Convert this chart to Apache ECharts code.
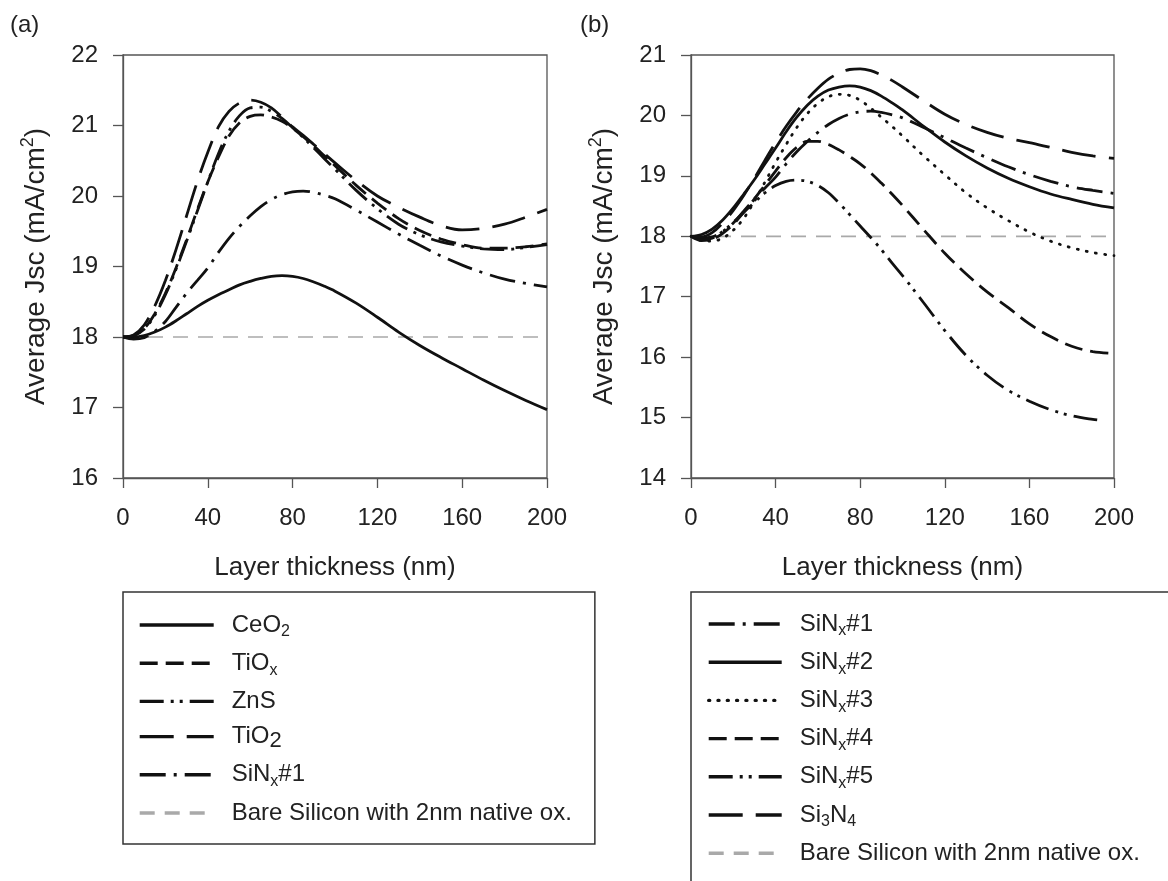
<!DOCTYPE html>
<html>
<head>
<meta charset="utf-8">
<title>Average Jsc vs layer thickness</title>
<script src="https://cdn.jsdelivr.net/npm/echarts@6/dist/echarts.min.js"></script>
<style>
  html, body { margin: 0; padding: 0; background: #fff; }
  #chart { width: 1168px; height: 881px; }
</style>
</head>
<body>
<div id="chart"></div>
<script>
// Layer thickness grid (nm)
const thickness = [0, 5, 10, 15, 20, 25, 30, 35, 40, 45, 50, 55, 60, 65, 70, 75, 80, 85, 90, 95, 100, 110, 120, 130, 140, 150, 160, 170, 180, 190, 200];
const thicknessSiNx5 = [0, 5, 10, 15, 20, 25, 30, 35, 40, 45, 50, 55, 60, 65, 70, 75, 80, 85, 90, 95, 100, 110, 120, 130, 140, 150, 160, 170, 180, 190, 195];

// Panel (a) average Jsc (mA/cm2)
const CeO2 = [18.0, 18.0, 18.02, 18.07, 18.14, 18.23, 18.33, 18.43, 18.52, 18.6, 18.67, 18.74, 18.79, 18.83, 18.86, 18.87, 18.86, 18.83, 18.78, 18.72, 18.65, 18.48, 18.28, 18.07, 17.88, 17.71, 17.55, 17.39, 17.24, 17.1, 16.97];
const TiOx = [18.0, 18.02, 18.12, 18.33, 18.62, 18.98, 19.38, 19.8, 20.2, 20.55, 20.85, 21.04, 21.13, 21.15, 21.12, 21.06, 20.96, 20.84, 20.71, 20.57, 20.43, 20.15, 19.9, 19.68, 19.51, 19.39, 19.31, 19.26, 19.26, 19.28, 19.32];
const ZnS = [18.0, 18.02, 18.11, 18.31, 18.6, 18.96, 19.36, 19.78, 20.2, 20.6, 20.92, 21.14, 21.25, 21.26, 21.2, 21.1, 20.97, 20.83, 20.68, 20.53, 20.38, 20.08, 19.82, 19.6, 19.45, 19.35, 19.29, 19.25, 19.24, 19.27, 19.31];
const TiO2 = [18.0, 18.03, 18.17, 18.44, 18.8, 19.24, 19.72, 20.2, 20.62, 20.98, 21.2, 21.32, 21.36, 21.33, 21.25, 21.12, 20.98, 20.86, 20.73, 20.6, 20.47, 20.22, 20.0, 19.84, 19.7, 19.58, 19.52, 19.54, 19.6, 19.7, 19.81];

// Silicon nitride variants (SiNx#1 appears in both panels)
const SiNx1 = [18.0, 17.97, 17.99, 18.08, 18.22, 18.42, 18.62, 18.8, 18.98, 19.2, 19.4, 19.57, 19.72, 19.85, 19.95, 20.02, 20.06, 20.07, 20.05, 20.01, 19.96, 19.8, 19.63, 19.46, 19.3, 19.15, 19.02, 18.91, 18.82, 18.76, 18.71];
const SiNx2 = [18.0, 18.03, 18.12, 18.27, 18.47, 18.7, 18.94, 19.2, 19.46, 19.73, 19.97, 20.17, 20.32, 20.42, 20.47, 20.49, 20.47, 20.41, 20.32, 20.21, 20.09, 19.82, 19.56, 19.33, 19.13, 18.96, 18.82, 18.7, 18.61, 18.53, 18.47];
const SiNx3 = [18.0, 17.93, 17.92, 17.97, 18.1, 18.3, 18.58, 18.9, 19.22, 19.52, 19.8, 20.03, 20.2, 20.31, 20.35, 20.33, 20.25, 20.12, 19.97, 19.82, 19.66, 19.33, 19.02, 18.72, 18.47, 18.26, 18.07, 17.92, 17.81, 17.73, 17.68];
const SiNx4 = [18.0, 17.93, 17.95, 18.05, 18.2, 18.4, 18.62, 18.85, 19.08, 19.3, 19.47, 19.57, 19.57, 19.52, 19.43, 19.32, 19.2, 19.05, 18.88, 18.7, 18.51, 18.11, 17.72, 17.38, 17.08, 16.82, 16.55, 16.34, 16.18, 16.09, 16.06];
const SiNx5 = [18.0, 17.95, 17.97, 18.08, 18.23, 18.4, 18.56, 18.72, 18.84, 18.91, 18.93, 18.91, 18.84, 18.72, 18.55, 18.36, 18.17, 17.98, 17.78, 17.56, 17.35, 16.9, 16.44, 16.03, 15.7, 15.45, 15.27, 15.13, 15.03, 14.97, 14.95];
const Si3N4 = [18.0, 17.99, 18.06, 18.22, 18.43, 18.68, 18.96, 19.26, 19.55, 19.82, 20.06, 20.27, 20.45, 20.6, 20.7, 20.76, 20.77, 20.74, 20.67, 20.58, 20.47, 20.24, 20.02, 19.85, 19.72, 19.62, 19.55, 19.47, 19.39, 19.33, 19.29];

// Reference level: bare silicon with native oxide
const bareThickness = [0, 200];
const bareJsc = [18.0, 18.0];

// Axis ranges / ticks
const xTicks = { min: 0, max: 200, interval: 40 };
const yTicksA = { min: 16, max: 22, interval: 1 };
const yTicksB = { min: 14, max: 21, interval: 1 };

const BARE = 'Bare Silicon with 2nm native ox.';
const legendA = ['CeO2', 'TiOx', 'ZnS', 'TiO2', 'SiNx#1', BARE];
const legendB = ['SiNx#1', 'SiNx#2', 'SiNx#3', 'SiNx#4', 'SiNx#5', 'Si3N4', BARE];

const FONT = "'Liberation Sans', Arial, Helvetica, sans-serif";
const INK = '#111';

// Line styles
const STYLE = {
  solid: { type: 'solid' },
  shortDash: { type: [18, 8] },
  dashDotDot: { type: [24, 7, 3, 6, 3, 7] },
  longDash: { type: [34, 13] },
  dashDot: { type: [26, 8, 3, 8] },
  dotted: { type: [1, 8.3], cap: 'round' }
};

function pairs(xs, ys) { return xs.map((x, i) => [x, ys[i]]); }

function curve(name, xs, ys, style, panel) {
  return {
    name: name,
    type: 'line',
    xAxisIndex: panel,
    yAxisIndex: panel,
    data: pairs(xs, ys),
    smooth: 0.35,
    symbol: 'none',
    showSymbol: false,
    silent: true,
    z: 3,
    lineStyle: Object.assign({ color: INK, width: 2.8 }, style)
  };
}

function bareLine(panel) {
  return {
    name: BARE,
    type: 'line',
    xAxisIndex: panel,
    yAxisIndex: panel,
    data: pairs(bareThickness, bareJsc),
    symbol: 'none',
    showSymbol: false,
    silent: true,
    z: 2,
    lineStyle: { color: '#a9a9a9', width: 1.7, type: [15, 10] }
  };
}

const legendMarkup = {
  'CeO2': '{f|CeO}{s|2}',
  'TiOx': '{f|TiO}{s|x}',
  'ZnS': '{f|ZnS}',
  'TiO2': '{f|TiO}{S|2}',
  'SiNx#1': '{f|SiN}{s|x}{n|#1}',
  'SiNx#2': '{f|SiN}{s|x}{n|#2}',
  'SiNx#3': '{f|SiN}{s|x}{n|#3}',
  'SiNx#4': '{f|SiN}{s|x}{n|#4}',
  'SiNx#5': '{f|SiN}{s|x}{n|#5}',
  'Si3N4': '{f|Si}{s|3}{n|N}{s|4}'
};
legendMarkup[BARE] = '{f|' + BARE + '}';

const legendRich = {
  f: { fontSize: 24, lineHeight: 30, fontFamily: FONT, color: '#222', padding: [0, 0, 0, 13] },
  n: { fontSize: 24, lineHeight: 30, fontFamily: FONT, color: '#222' },
  s: { fontSize: 16, lineHeight: 10, fontFamily: FONT, color: '#222', verticalAlign: 'bottom' },
  S: { fontSize: 22, lineHeight: 17, fontFamily: FONT, color: '#222', verticalAlign: 'bottom' }
};

function makeLegend(names, left, top, padding, itemGap, itemWidth, boxed) {
  return {
    data: names,
    orient: 'vertical',
    left: left,
    top: top,
    padding: padding,
    itemGap: itemGap,
    itemWidth: itemWidth,
    itemHeight: 14,
    selectedMode: false,
    borderColor: boxed ? '#333' : 'transparent',
    borderWidth: boxed ? 1.5 : 0,
    borderRadius: 0,
    backgroundColor: boxed ? '#fff' : 'transparent',
    itemStyle: { opacity: 0 },
    lineStyle: { width: 3.4 },
    formatter: name => legendMarkup[name],
    textStyle: { rich: legendRich, fontFamily: FONT, fontSize: 24, color: '#222' }
  };
}

function xAxis(gridIndex) {
  return {
    type: 'value',
    gridIndex: gridIndex,
    min: xTicks.min, max: xTicks.max, interval: xTicks.interval,
    name: 'Layer thickness (nm)',
    nameLocation: 'middle',
    nameGap: 77,
    nameTextStyle: { fontSize: 26, fontFamily: FONT, color: '#222' },
    axisLine: { show: true, lineStyle: { color: '#555', width: 1.3 } },
    axisTick: { show: true, inside: false, length: 10, lineStyle: { color: '#555', width: 1.3 } },
    axisLabel: { fontSize: 24, fontFamily: FONT, color: '#222', margin: 28 },
    splitLine: { show: false }
  };
}

function yAxis(gridIndex, ticks) {
  return {
    type: 'value',
    gridIndex: gridIndex,
    min: ticks.min, max: ticks.max, interval: ticks.interval,
    name: '{t|Average Jsc (mA/cm}{p|2}{t|)}',
    nameLocation: 'middle',
    nameGap: 70,
    nameRotate: 90,
    nameTextStyle: {
      fontFamily: FONT, color: '#222',
      rich: {
        t: { fontSize: 28, lineHeight: 34, fontFamily: FONT, color: '#222' },
        p: { fontSize: 18, lineHeight: 18, fontFamily: FONT, color: '#222', verticalAlign: 'top' }
      }
    },
    axisLine: { show: true, lineStyle: { color: '#555', width: 1.3 } },
    axisTick: { show: true, inside: false, length: 10, lineStyle: { color: '#555', width: 1.3 } },
    axisLabel: { fontSize: 24, fontFamily: FONT, color: '#222', margin: 25 },
    splitLine: { show: false }
  };
}

const option = {
  animation: false,
  backgroundColor: '#fff',
  textStyle: { fontFamily: FONT },
  title: [
    { text: '(a)', left: 5, top: 8, textStyle: { fontSize: 24, fontWeight: 'normal', fontFamily: FONT, color: '#222' } },
    { text: '(b)', left: 575, top: 8, textStyle: { fontSize: 24, fontWeight: 'normal', fontFamily: FONT, color: '#222' } }
  ],
  // Frame of the second legend, which runs past the right and bottom edges
  graphic: [
    {
      type: 'rect',
      z: 1,
      shape: { x: 691, y: 592, width: 620, height: 420 },
      style: { fill: 'none', stroke: '#333', lineWidth: 1.5 }
    }
  ],
  grid: [
    { left: 123, top: 55, width: 424, height: 423, show: true, borderColor: '#555', borderWidth: 1.3, backgroundColor: 'transparent' },
    { left: 691, top: 55, width: 423, height: 423, show: true, borderColor: '#555', borderWidth: 1.3, backgroundColor: 'transparent' }
  ],
  xAxis: [xAxis(0), xAxis(1)],
  yAxis: [yAxis(0, yTicksA), yAxis(1, yTicksB)],
  legend: [
    makeLegend(legendA, 123, 592, [21, 23, 19, 15], 11.2, 74, true),
    makeLegend(legendB, 691, 592, [20, 10, 4, 16], 11.2, 73, false)
  ],
  series: [
    bareLine(0),
    curve('CeO2', thickness, CeO2, STYLE.solid, 0),
    curve('TiOx', thickness, TiOx, STYLE.shortDash, 0),
    curve('ZnS', thickness, ZnS, STYLE.dashDotDot, 0),
    curve('TiO2', thickness, TiO2, STYLE.longDash, 0),
    curve('SiNx#1', thickness, SiNx1, STYLE.dashDot, 0),

    bareLine(1),
    curve('SiNx#1', thickness, SiNx1, STYLE.dashDot, 1),
    curve('SiNx#2', thickness, SiNx2, STYLE.solid, 1),
    curve('SiNx#3', thickness, SiNx3, STYLE.dotted, 1),
    curve('SiNx#4', thickness, SiNx4, STYLE.shortDash, 1),
    curve('SiNx#5', thicknessSiNx5, SiNx5, STYLE.dashDotDot, 1),
    curve('Si3N4', thickness, Si3N4, STYLE.longDash, 1)
  ]
};

const chart = echarts.init(document.getElementById('chart'), null, { renderer: 'canvas' });
chart.setOption(option);
</script>
</body>
</html>
